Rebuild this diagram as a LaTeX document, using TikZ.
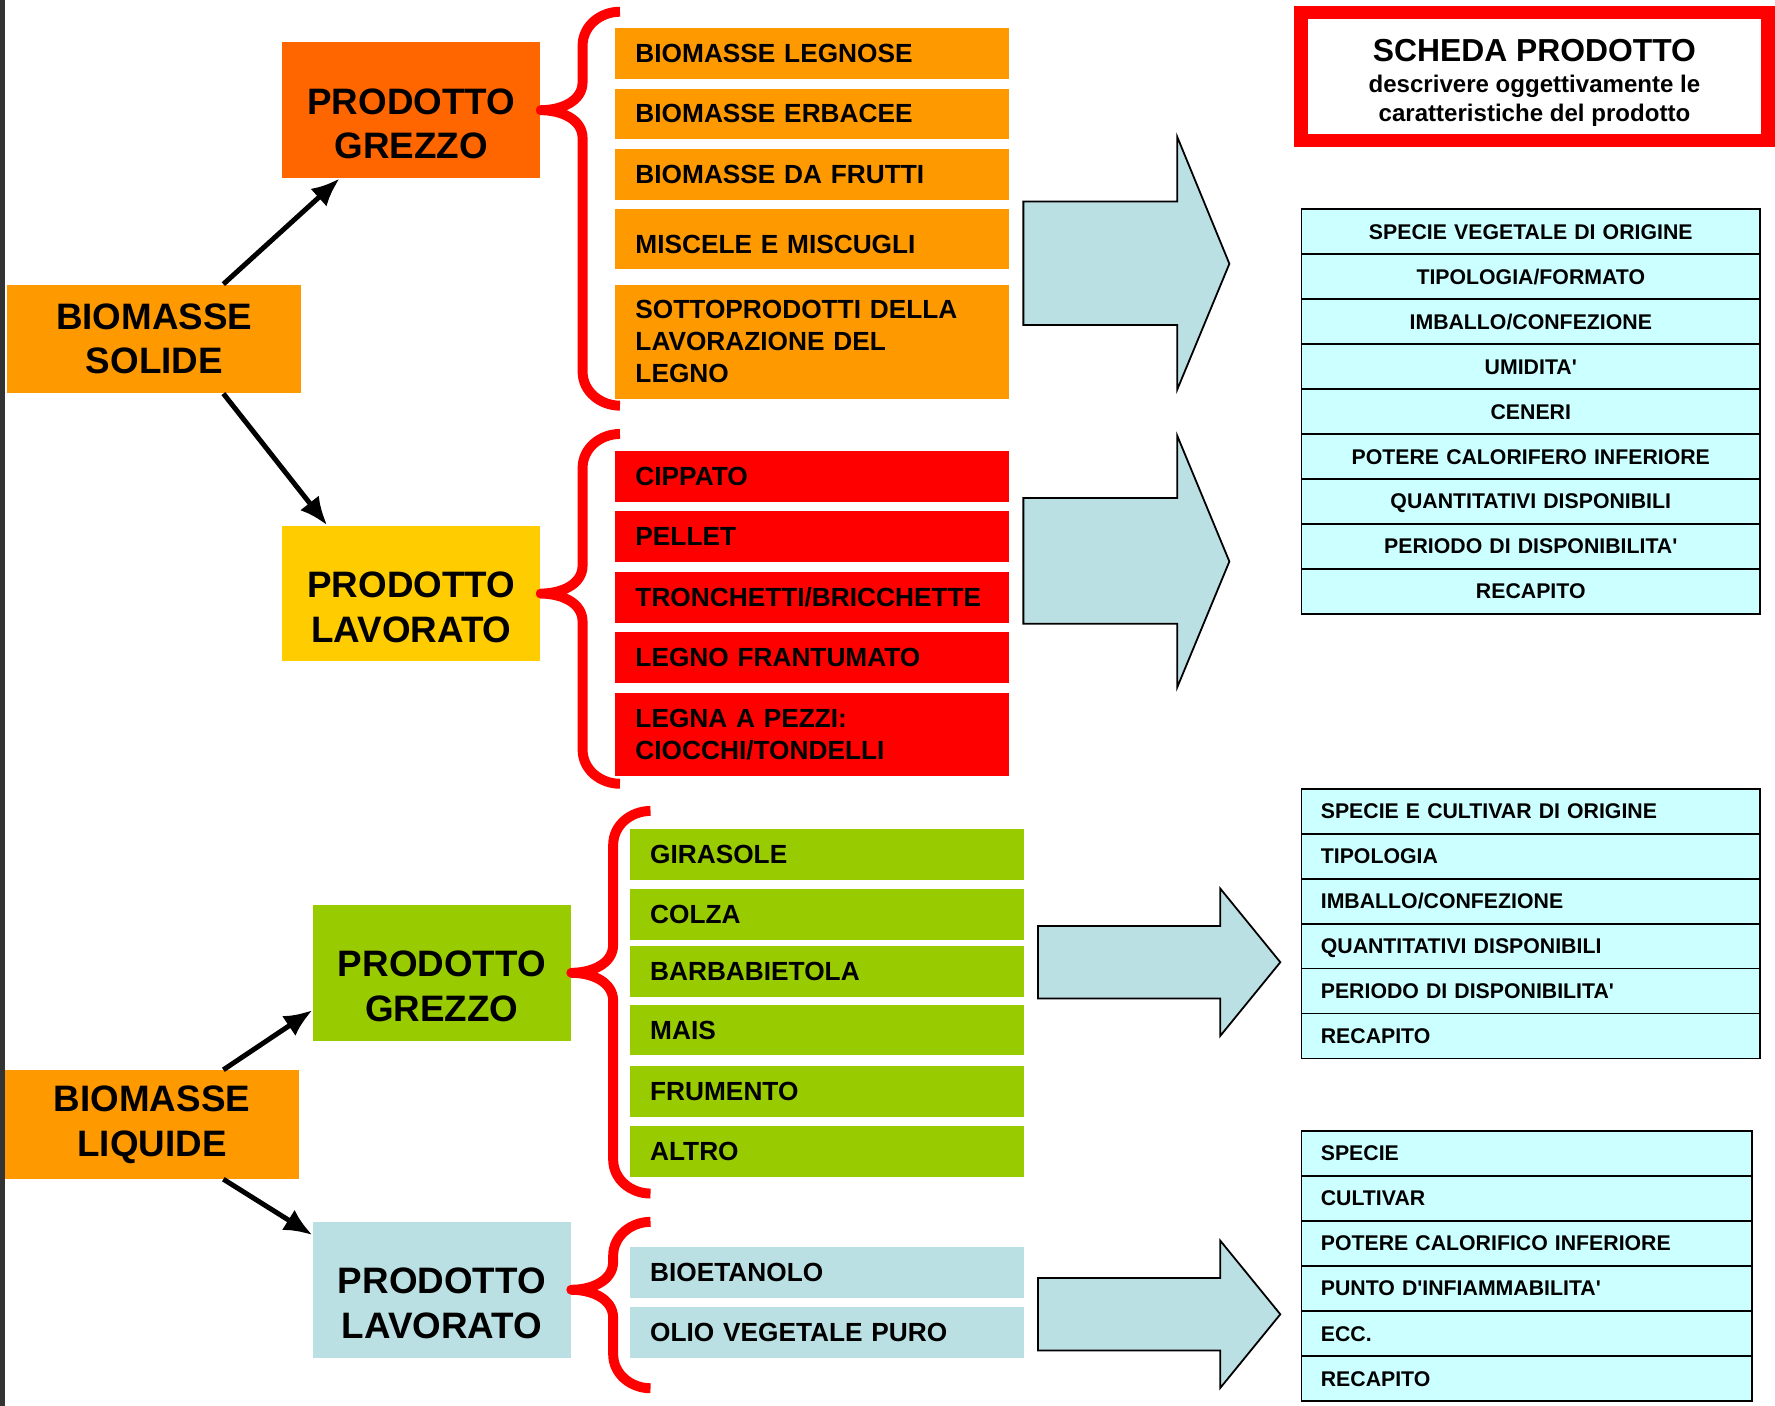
\documentclass[tikz,border=0pt]{standalone}
\usepackage{fontspec}
\setmainfont{Liberation Sans}
\usepackage{tikz}
\usetikzlibrary{arrows.meta}
\usetikzlibrary{calc}
\tikzset{>={Latex[length=5mm,width=4.2mm]}}

\definecolor{solidorange}{HTML}{FF9900}
\definecolor{grezzoorange}{HTML}{FF6600}
\definecolor{lavoratoyellow}{HTML}{FFCC00}
\definecolor{chipred}{HTML}{FF0000}
\definecolor{cropgreen}{HTML}{99CC00}
\definecolor{liquidblue}{HTML}{BBE0E3}
\definecolor{cellcyan}{HTML}{CCFFFF}
\definecolor{stripgray}{HTML}{333333}

\newcommand{\bigfont}{\fontsize{18.5}{22.5}\selectfont\bfseries}
\newcommand{\itemfont}{\fontsize{13.2}{16.2}\selectfont\bfseries}
\newcommand{\cellfont}{\fontsize{10.7}{12}\selectfont\bfseries}
\newcommand{\headfont}{\fontsize{16}{18}\selectfont\bfseries}
\newcommand{\subfont}{\fontsize{12.1}{14.6}\selectfont\bfseries}

\tikzset{
    bigbox/.style={anchor=north west, minimum width=5.2cm, minimum height=1.92cm, inner sep=0pt, align=center, font=\bigfont},
    prodbox/.style={anchor=north west, minimum width=4.56cm, minimum height=2.4cm, inner sep=0pt},
    prodtext/.style={align=center, font=\bigfont, yshift=-0.24cm},
    item/.style={anchor=north west, minimum height=0.9cm, text width=6.24cm, inner xsep=0.36cm, inner ysep=0pt, align=left, font=\itemfont},
    cellc/.style={anchor=north west, draw=black, fill=cellcyan, line width=0.9pt, text width=7.42cm, inner xsep=0.34cm, inner ysep=0pt, minimum height=0.794cm, text height=7.7pt, text depth=0pt, align=center, font=\cellfont},
    celll/.style={cellc, align=left},
    conn/.style={->, line width=2.5pt},
    brace/.style={draw=chipred, line width=5pt, line join=round},
    bigarrow/.style={draw=black, fill=liquidblue, line width=0.9pt},
    scheda/.style={draw=chipred, fill=white, line width=0.24cm, minimum width=8.26cm, minimum height=2.26cm, inner sep=0pt}
}

% curly bracket from a box to its list
\newcommand{\groupbrace}[3]{%
    \draw[brace] (#1.east) ++(70,#2) to[out=180,in=90] ++(-33,-30) -- ++(0,{55-#2})
        to[out=-90,in=0] ++(-37,-25) to[out=0,in=90] ++(37,-25) -- ++(0,{55-#3})
        to[out=-90,in=180] ++(33,-30);}

\begin{document}
\begin{tikzpicture}[x=0.02cm,y=0.02cm]
    \useasboundingbox (0,0) rectangle (1568,-1242);
    \fill[stripgray] (0,0) rectangle (4,-1242);

    % solid biomass
    \node[bigbox, fill=solidorange] (bs) at (6,-251) {BIOMASSE\\SOLIDE};
    \node[prodbox, fill=grezzoorange, label={[prodtext]center:PRODOTTO\\GREZZO}] (pg1) at (249,-37) {};
    \node[prodbox, fill=lavoratoyellow, label={[prodtext]center:PRODOTTO\\LAVORATO}] (pl1) at (249,-464) {};

    \draw[conn] ($(bs.north)+(61,0)$) -- ($(pg1.south west)+(51,0)$);
    \draw[conn] ($(bs.south)+(61,0)$) -- ($(pl1.north west)+(40,0)$);

    \node[item, fill=solidorange] (o1) at (543,-24) {BIOMASSE LEGNOSE};
    \node[item, fill=solidorange, minimum height=0.88cm] (o2) at (543,-78) {BIOMASSE ERBACEE};
    \node[item, fill=solidorange] (o3) at (543,-131) {BIOMASSE DA FRUTTI};
    \node[item, fill=solidorange, minimum height=1.06cm, text height=15pt, text depth=0pt] (o4) at (543,-184) {MISCELE E MISCUGLI};
    \node[item, fill=solidorange, minimum height=2.02cm] (o5) at (543,-251) {SOTTOPRODOTTI DELLA\\LAVORAZIONE DEL\\LEGNO};

    \node[item, fill=chipred] (r1) at (543,-398) {CIPPATO};
    \node[item, fill=chipred] (r2) at (543,-451) {PELLET};
    \node[item, fill=chipred] (r3) at (543,-505) {TRONCHETTI/BRICCHETTE};
    \node[item, fill=chipred] (r4) at (543,-558) {LEGNO FRANTUMATO};
    \node[item, fill=chipred, minimum height=1.46cm] (r5) at (543,-612) {LEGNA A PEZZI:\\CIOCCHI/TONDELLI};

    \groupbrace{pg1}{87}{261}
    \groupbrace{pl1}{141}{168}

    % liquid biomass
    \node[bigbox, fill=solidorange] (bl) at (4,-945) {BIOMASSE\\LIQUIDE};
    \node[prodbox, fill=cropgreen, label={[prodtext]center:PRODOTTO\\GREZZO}] (pg2) at (276,-799) {};
    \node[prodbox, fill=liquidblue, label={[prodtext]center:PRODOTTO\\LAVORATO}] (pl2) at (276,-1079) {};

    \draw[conn] ($(bl.north)+(63,0)$) -- ($(pg2.west)+(0,-33)$);
    \draw[conn] ($(bl.south)+(63,0)$) -- ($(pl2.north west)+(0,-12)$);

    \foreach \t/\y [count=\i] in {GIRASOLE/732, COLZA/785, BARBABIETOLA/835, MAIS/887, FRUMENTO/941, ALTRO/994}
        \node[item, fill=cropgreen] (g\i) at (556,-\y) {\t};
    \node[item, fill=liquidblue] (b1) at (556,-1101) {BIOETANOLO};
    \node[item, fill=liquidblue] (b2) at (556,-1154) {OLIO VEGETALE PURO};

    \groupbrace{pg2}{143}{195}
    \groupbrace{pl2}{60}{87}

    % block arrows
    \draw[bigarrow] (904,-178) -- (1040,-178) -- (1040,-121) -- (1086,-233) -- (1040,-344) -- (1040,-287) -- (904,-287) -- cycle;
    \draw[bigarrow] (904,-440) -- (1040,-440) -- (1040,-385) -- (1086,-496) -- (1040,-607) -- (1040,-551) -- (904,-551) -- cycle;
    \draw[bigarrow] (917,-818) -- (1078,-818) -- (1078,-785) -- (1131,-850) -- (1078,-915) -- (1078,-882) -- (917,-882) -- cycle;
    \draw[bigarrow] (917,-1129) -- (1078,-1129) -- (1078,-1096) -- (1131,-1161) -- (1078,-1226) -- (1078,-1193) -- (917,-1193) -- cycle;

    % product sheet
    \node[scheda] (sp) at (1355.5,-67.5) {};
    \node[font=\subfont, align=center, inner sep=0pt] (sptext) at (1355.5,-73) {{\headfont SCHEDA PRODOTTO}\\[1pt]descrivere oggettivamente le\\caratteristiche del prodotto};

    \foreach \t [count=\i] in {SPECIE VEGETALE DI ORIGINE, TIPOLOGIA/FORMATO, IMBALLO/CONFEZIONE, UMIDITA\textquotesingle, CENERI, POTERE CALORIFERO INFERIORE, QUANTITATIVI DISPONIBILI, PERIODO DI DISPONIBILITA\textquotesingle, RECAPITO}
        \node[cellc] (sa\i) at (1149,{-184-39.7*(\i-1)}) {\t};

    \foreach \t [count=\i] in {SPECIE E CULTIVAR DI ORIGINE, TIPOLOGIA, IMBALLO/CONFEZIONE, QUANTITATIVI DISPONIBILI, PERIODO DI DISPONIBILITA\textquotesingle, RECAPITO}
        \node[celll] (sb\i) at (1149,{-696-39.7*(\i-1)}) {\t};

    \foreach \t [count=\i] in {SPECIE, CULTIVAR, POTERE CALORIFICO INFERIORE, PUNTO D\textquotesingle INFIAMMABILITA\textquotesingle, ECC., RECAPITO}
        \node[celll, text width=7.28cm] (sc\i) at (1149,{-998-39.8*(\i-1)}) {\t};
\end{tikzpicture}
\end{document}
